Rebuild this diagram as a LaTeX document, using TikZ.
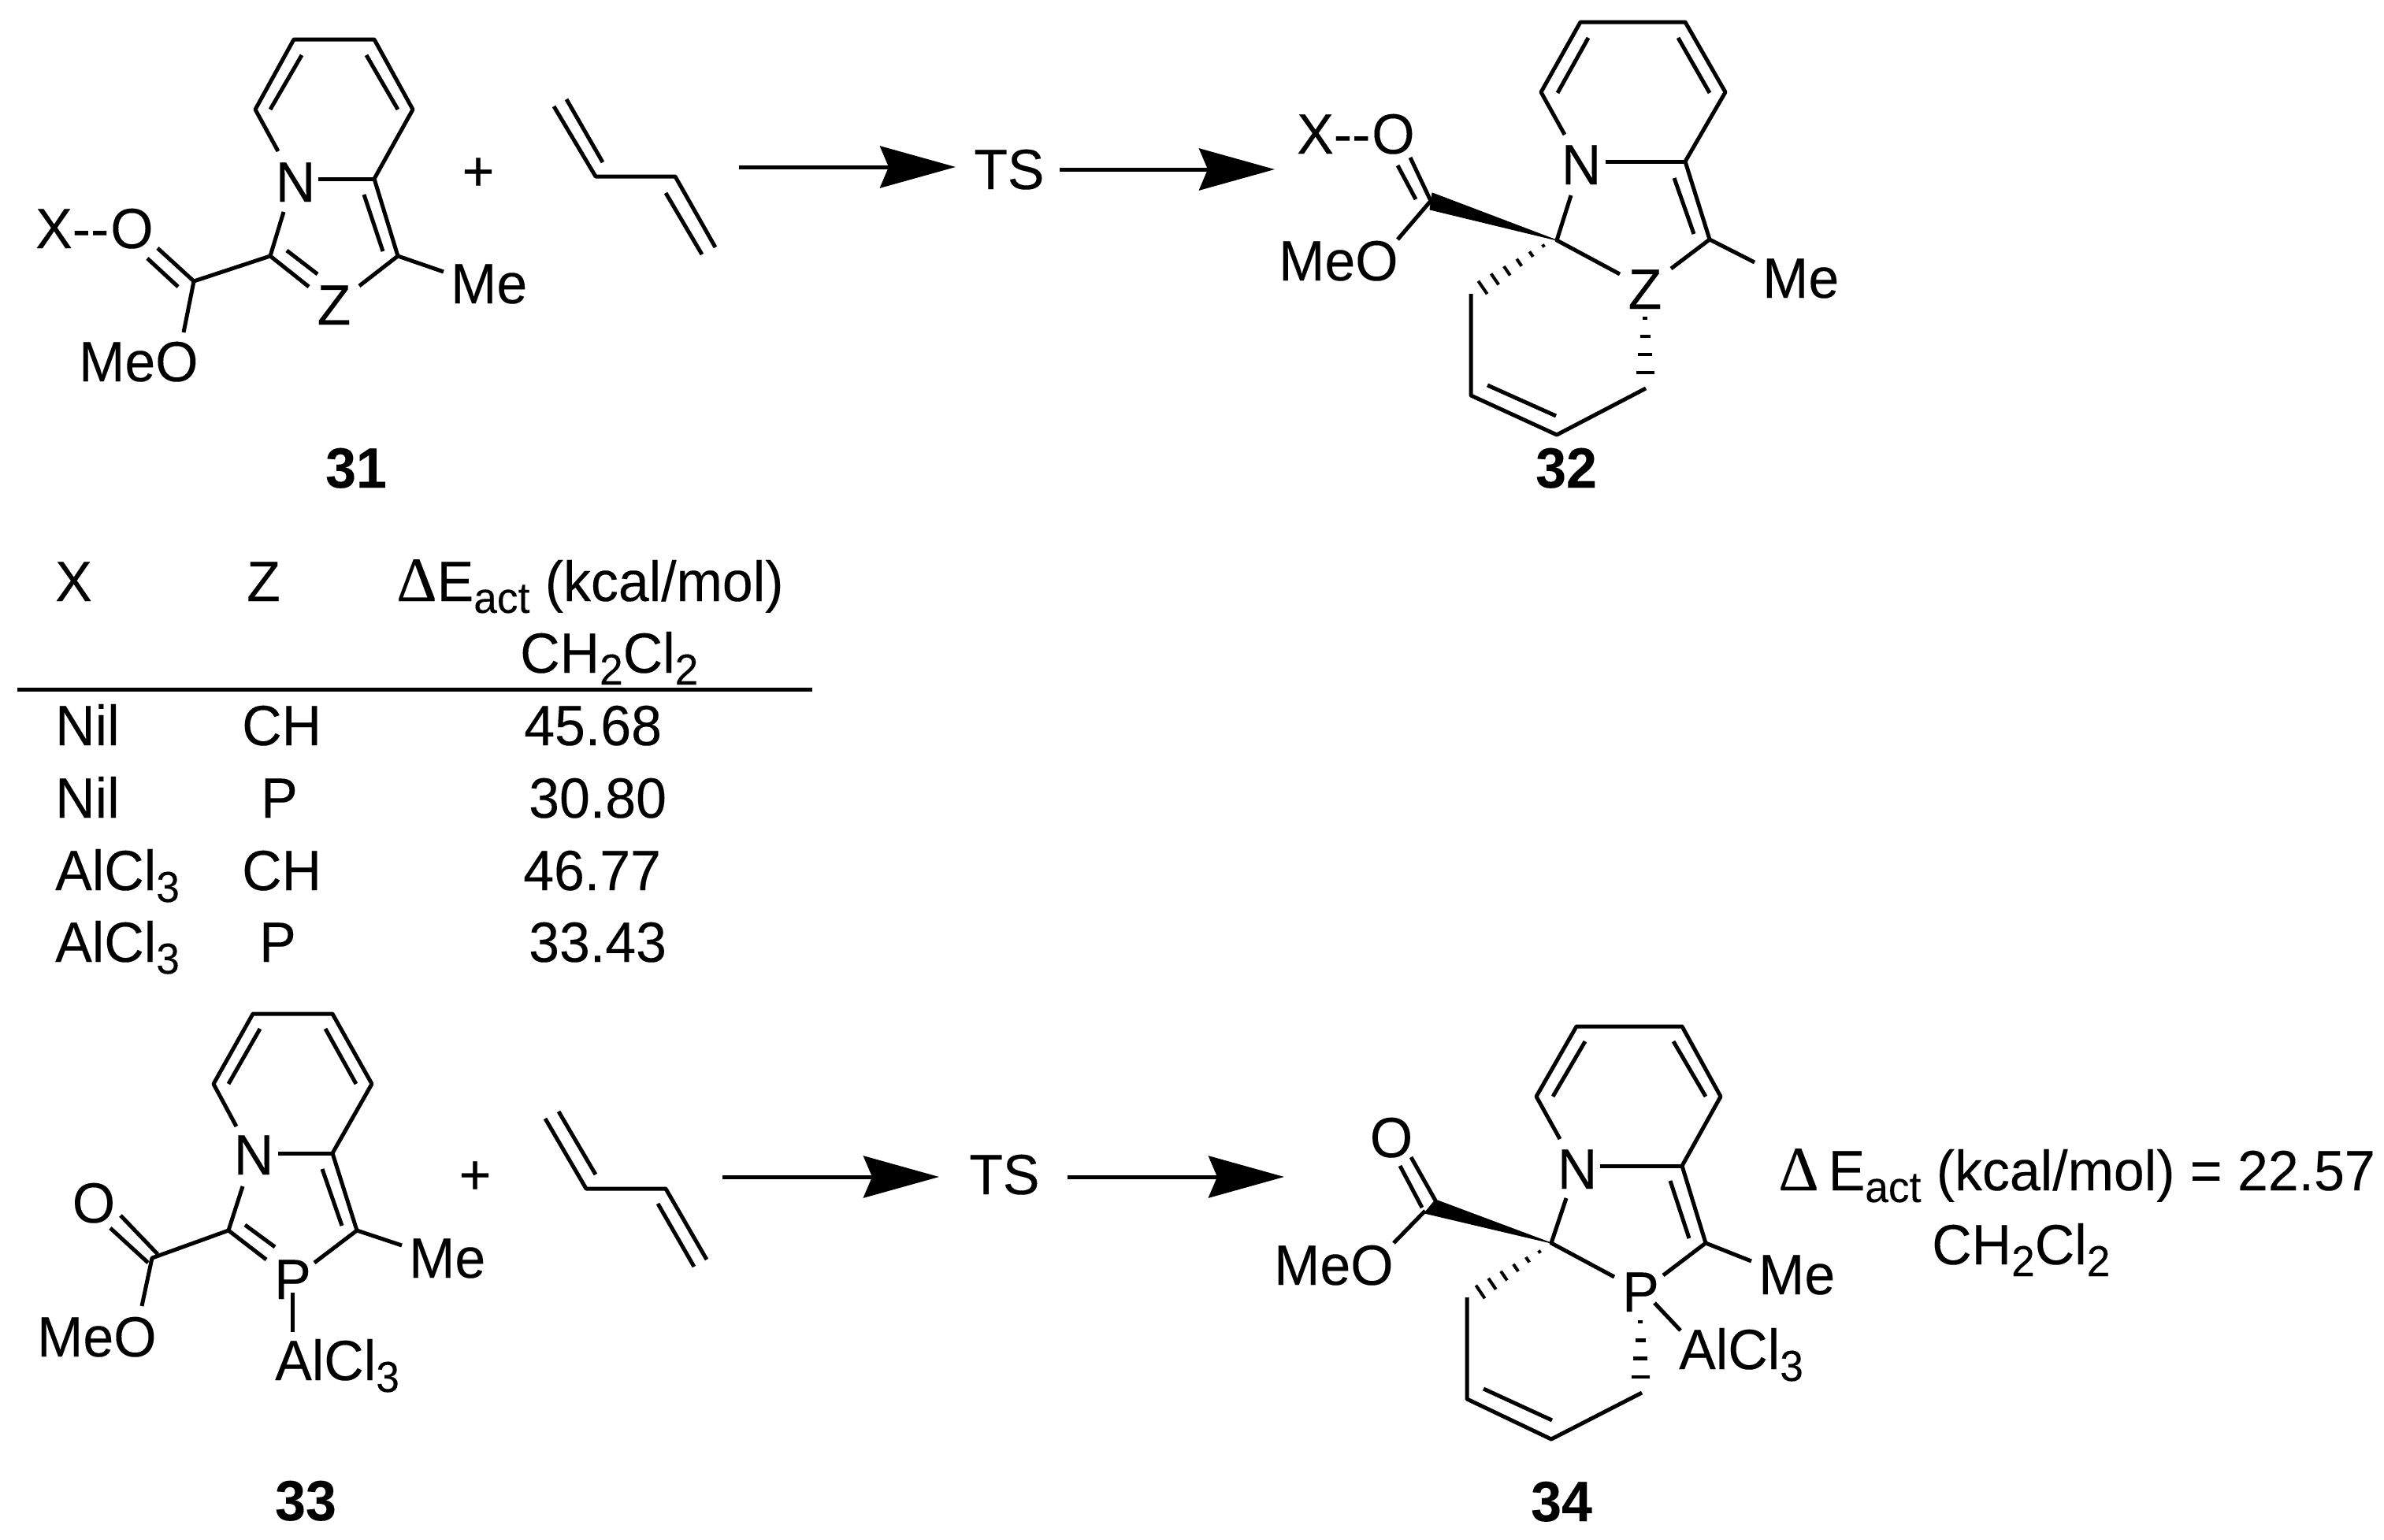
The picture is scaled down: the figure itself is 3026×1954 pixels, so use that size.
\documentclass[tikz,border=0pt]{standalone}
\usepackage{fontspec}
\setmainfont[FakeStretch=0.97,FakeBold=0.12]{Liberation Sans}
\newfontfamily\dltfont[FakeBold=0.12]{Liberation Serif}
\usetikzlibrary{arrows.meta,calc}
\newcommand\subs[1]{\raisebox{-15pt}{\fontsize{55}{55}\selectfont #1}}
\newcommand\dlt{{\fontsize{80}{80}\dltfont Δ}}
\tikzset{
  bond/.style={line width=5pt,line cap=butt,line join=round},
  rule line/.style={line width=5pt},
  rxn/.style={line width=5pt,-{Stealth[length=96pt,width=53pt,inset=11pt]}},
  lab/.style={anchor=base west,inner sep=0pt,font=\fontsize{72}{80}\selectfont},
  labc/.style={anchor=base,inner sep=0pt,font=\fontsize{72}{80}\selectfont},
  cmpd/.style={anchor=base,inner sep=0pt,font=\fontsize{72}{80}\selectfont\bfseries},
  wedge/.style={fill=black,draw=black,line width=1pt,line join=round}
}
\newcommand\hashA[2]{% six widening bars
  \coordinate (hx) at ($(#1)!2!(#2)$);
  \foreach \t/\w in {0/2,0.2/4,0.4/5.5,0.6/7,0.8/8.5,1/10}
    \draw[line width=4pt] ($(#1)!\t!(#2)!\w pt!90:(hx)$) -- ($(#1)!\t!(#2)!\w pt!-90:(hx)$);}
\newcommand\hashB[2]{% four widening bars
  \coordinate (hx) at ($(#1)!2!(#2)$);
  \foreach \t/\w in {0/3,0.333/6.5,0.667/9,1/11.5}
    \draw[line width=4.5pt] ($(#1)!\t!(#2)!\w pt!90:(hx)$) -- ($(#1)!\t!(#2)!\w pt!-90:(hx)$);}
\begin{document}
\begin{tikzpicture}[x=1pt,y=-1pt]
\useasboundingbox (0,0) rectangle (3026,1954);
% ---------- 31
\coordinate (a1) at (373,50); \coordinate (a2) at (475,50); \coordinate (a3) at (524,139);
\coordinate (a4) at (324,139); \coordinate (a5) at (475,227); \coordinate (a6) at (505,325);
\coordinate (a7) at (343,325); \coordinate (a8) at (246,357);
\coordinate (a4n) at (353,192); \coordinate (a5n) at (404,227); \coordinate (a7n) at (360,269);
\coordinate (a7z) at (392,364); \coordinate (a6z) at (456,363); \coordinate (a6m) at (563,345);
\coordinate (a1i) at (383,70); \coordinate (a4i) at (343,139);
\coordinate (a2i) at (465,70); \coordinate (a3i) at (505,139);
\coordinate (a5i) at (462,247); \coordinate (a6i) at (486,319);
\coordinate (a7i) at (364,318); \coordinate (azi) at (403,348);
\coordinate (aO1) at (200,315); \coordinate (aO2) at (187,328); \coordinate (a8i) at (226,364);
\coordinate (aOm) at (233,422);
\draw[bond] (a4n) -- (a4) -- (a1) -- (a2) -- (a3) -- (a5) -- (a6) -- (a6m);
\draw[bond] (a5n) -- (a5);
\draw[bond] (a7n) -- (a7) -- (a7z);
\draw[bond] (a6z) -- (a6);
\draw[bond] (a7) -- (a8) -- (aO1);
\draw[bond] (a8) -- (aOm);
\draw[bond] (a8i) -- (aO2);
\draw[bond] (a1i) -- (a4i);
\draw[bond] (a2i) -- (a3i);
\draw[bond] (a5i) -- (a6i);
\draw[bond] (a7i) -- (azi);
\node[labc] (aN) at (375,256) {N};
\node[labc] (aZ) at (424,412) {Z};
\node[lab] (aMe) at (572,385) {Me};
\node[lab] (aXO) at (45,315) {X-{}-\kern2pt O};
\node[lab] (aMeO) at (100,484) {MeO};
\node[cmpd] (a31) at (452,619) {31};
\node[labc] (plusA) at (607,242) {+};
% butadiene top
\coordinate (e1) at (703,135); \coordinate (e2) at (756,224); \coordinate (e3) at (857,224); \coordinate (e4) at (908,314);
\coordinate (e1i) at (719,126); \coordinate (e2i) at (765,206); \coordinate (e3i) at (845,245); \coordinate (e4i) at (891,323);
\draw[bond] (e1) -- (e2) -- (e3) -- (e4);
\draw[bond] (e1i) -- (e2i);
\draw[bond] (e3i) -- (e4i);
% arrows top
\node[lab] (tsA) at (1236,240) {TS};
\coordinate (ra1) at (938,212); \coordinate (ra2) at (1213,212);
\coordinate (ra3) at (1345,215); \coordinate (ra4) at (1618,215);
\draw[rxn] (ra1) -- (ra2);
\draw[rxn] (ra3) -- (ra4);
% ---------- 32
\coordinate (b1) at (2006,28); \coordinate (b2) at (2139,28); \coordinate (b3) at (2190,117);
\coordinate (b4) at (1956,117); \coordinate (b5) at (2139,205); \coordinate (b6) at (2170,304);
\coordinate (b7) at (1976,305); \coordinate (b8) at (1816,255);
\coordinate (b4n) at (1986,171); \coordinate (b5n) at (2038,205); \coordinate (b7n) at (1994,248);
\coordinate (b7z) at (2056,348); \coordinate (b6z) at (2121,341); \coordinate (b6m) at (2227,333);
\coordinate (b1i) at (2016,48); \coordinate (b4i) at (1977,118);
\coordinate (b2i) at (2130,48); \coordinate (b3i) at (2170,118);
\coordinate (b5i) at (2125,226); \coordinate (b6i) at (2150,297);
\coordinate (bO1) at (1790,200); \coordinate (bO2) at (1774,210); \coordinate (b8i) at (1797,253);
\coordinate (bOm) at (1774,304);
\coordinate (bw1) at (1818,245); \coordinate (bw2) at (1815,266);
\coordinate (bh1) at (1959,312); \coordinate (bh2) at (1882,365);
\coordinate (b9) at (1867,373); \coordinate (b10) at (1867,502); \coordinate (b11) at (1976,552); \coordinate (b12) at (2089,493);
\coordinate (b10i) at (1888,489); \coordinate (b11i) at (1975,528);
\coordinate (bh3) at (2088,404); \coordinate (bh4) at (2088,473);
\draw[bond] (b4n) -- (b4) -- (b1) -- (b2) -- (b3) -- (b5) -- (b6) -- (b6m);
\draw[bond] (b5n) -- (b5);
\draw[bond] (b7n) -- (b7) -- (b7z);
\draw[bond] (b6z) -- (b6);
\draw[bond] (b8) -- (bO1);
\draw[bond] (b8) -- (bOm);
\draw[bond] (b8i) -- (bO2);
\draw[bond] (b1i) -- (b4i);
\draw[bond] (b2i) -- (b3i);
\draw[bond] (b5i) -- (b6i);
\draw[bond] (b9) -- (b10) -- (b11) -- (b12);
\draw[bond] (b10i) -- (b11i);
\draw[wedge] (b7) -- (bw1) -- (bw2) -- cycle;
\hashA{bh1}{bh2}
\hashB{bh3}{bh4}
\node[labc] (bN) at (2007,234) {N};
\node[labc] (bZ) at (2088,392) {Z};
\node[lab] (bMe) at (2237,378) {Me};
\node[lab] (bXO) at (1646,195) {X-{}-\kern2pt O};
\node[lab] (bMeO) at (1623,356) {MeO};
\node[cmpd] (b32) at (1988,619) {32};
% ---------- table
\node[lab] (tX) at (70,763) {X};
\node[lab] (tZ) at (313,763) {Z};
\node[lab] (tE) at (503,763) {\dlt E\subs{act} (kcal/mol)};
\node[lab] (tS) at (660,854) {CH\subs{2}Cl\subs{2}};
\coordinate (tr1) at (22,875); \coordinate (tr2) at (1031,875);
\draw[rule line] (tr1) -- (tr2);
\node[lab] (t11) at (70,946) {Nil};
\node[lab] (t12) at (307,946) {CH};
\node[lab] (t13) at (665,946) {45.68};
\node[lab] (t21) at (70,1038) {Nil};
\node[lab] (t22) at (331,1038) {P};
\node[lab] (t23) at (671,1038) {30.80};
\node[lab] (t31) at (70,1130) {AlCl\subs{3}};
\node[lab] (t32) at (307,1130) {CH};
\node[lab] (t33) at (664,1130) {46.77};
\node[lab] (t41) at (70,1221) {AlCl\subs{3}};
\node[lab] (t42) at (329,1221) {P};
\node[lab] (t43) at (671,1221) {33.43};
% ---------- 33
\coordinate (c1) at (321,1287); \coordinate (c2) at (422,1287); \coordinate (c3) at (472,1376);
\coordinate (c4) at (271,1376); \coordinate (c5) at (422,1464); \coordinate (c6) at (453,1562);
\coordinate (c7) at (290,1562); \coordinate (c8) at (193,1597); \coordinate (c8o) at (200,1592);
\coordinate (c4n) at (300,1430); \coordinate (c5n) at (353,1464); \coordinate (c7n) at (308,1506);
\coordinate (c7z) at (338,1599); \coordinate (c6z) at (399,1603); \coordinate (c6m) at (510,1581);
\coordinate (c1i) at (330,1306); \coordinate (c4i) at (290,1376);
\coordinate (c2i) at (413,1306); \coordinate (c3i) at (452,1376);
\coordinate (c5i) at (409,1484); \coordinate (c6i) at (434,1556);
\coordinate (c7i) at (311,1555); \coordinate (cPi) at (349,1583);
\coordinate (cO1) at (153,1543); \coordinate (cO2) at (140,1559); \coordinate (c8i) at (188,1603);
\coordinate (cOm) at (180,1658);
\coordinate (cP1) at (371,1641); \coordinate (cP2) at (371,1691);
\draw[bond] (c4n) -- (c4) -- (c1) -- (c2) -- (c3) -- (c5) -- (c6) -- (c6m);
\draw[bond] (c5n) -- (c5);
\draw[bond] (c7n) -- (c7) -- (c8) -- (cOm);
\draw[bond] (c6z) -- (c6);
\draw[bond] (c8o) -- (cO1);
\draw[bond] (c8i) -- (cO2);
\draw[bond] (c1i) -- (c4i);
\draw[bond] (c2i) -- (c3i);
\draw[bond] (c5i) -- (c6i);
\draw[bond] (c7i) -- (cPi);
\draw[bond] (cP1) -- (cP2);
\draw[bond] (c7) -- (c7z);
\node[labc] (cN) at (322,1491) {N};
\node[lab] (cP) at (348,1649) {P};
\node[lab] (cMe) at (519,1622) {Me};
\node[labc] (cO) at (119,1552) {O};
\node[lab] (cMeO) at (47,1722) {MeO};
\node[lab] (cAl) at (349,1752) {AlCl\subs{3}};
\node[cmpd] (c33) at (388,1930) {33};
\node[labc] (plusB) at (603,1516) {+};
% butadiene bottom
\coordinate (f1) at (692,1420); \coordinate (f2) at (744,1509); \coordinate (f3) at (845,1509); \coordinate (f4) at (897,1599);
\coordinate (f1i) at (709,1411); \coordinate (f2i) at (756,1491); \coordinate (f3i) at (835,1528); \coordinate (f4i) at (881,1608);
\draw[bond] (f1) -- (f2) -- (f3) -- (f4);
\draw[bond] (f1i) -- (f2i);
\draw[bond] (f3i) -- (f4i);
% arrows bottom
\node[lab] (tsB) at (1230,1516) {TS};
\coordinate (rb1) at (917,1494); \coordinate (rb2) at (1192,1494);
\coordinate (rb3) at (1355,1494); \coordinate (rb4) at (1630,1494);
\draw[rxn] (rb1) -- (rb2);
\draw[rxn] (rb3) -- (rb4);
% ---------- 34
\coordinate (d1) at (2001,1303); \coordinate (d2) at (2135,1303); \coordinate (d3) at (2184,1392);
\coordinate (d4) at (1950,1392); \coordinate (d5) at (2135,1480); \coordinate (d6) at (2165,1578);
\coordinate (d7) at (1969,1578); \coordinate (d8) at (1809,1537);
\coordinate (d4n) at (1980,1446); \coordinate (d5n) at (2031,1480); \coordinate (d7n) at (1988,1521);
\coordinate (d7z) at (2049,1621); \coordinate (d6z) at (2111,1619); \coordinate (d6m) at (2223,1601);
\coordinate (d1i) at (2012,1322); \coordinate (d4i) at (1971,1392);
\coordinate (d2i) at (2124,1322); \coordinate (d3i) at (2165,1392);
\coordinate (d5i) at (2120,1499); \coordinate (d6i) at (2144,1572);
\coordinate (dO1) at (1791,1469); \coordinate (dO2) at (1777,1480); \coordinate (d8i) at (1805,1533); \coordinate (d8o) at (1822,1524);
\coordinate (dOm) at (1769,1578);
\coordinate (dw1) at (1822,1523); \coordinate (dw2) at (1808,1540);
\coordinate (dh1) at (1954,1589); \coordinate (dh2) at (1879,1640);
\coordinate (d9) at (1862,1647); \coordinate (d10) at (1862,1776); \coordinate (d11) at (1969,1827); \coordinate (d12) at (2084,1768);
\coordinate (d10i) at (1883,1763); \coordinate (d11i) at (1970,1803);
\coordinate (dh3) at (2082,1678); \coordinate (dh4) at (2082,1748);
\coordinate (dP1) at (2100,1654); \coordinate (dP2) at (2133,1689);
\draw[bond] (d4n) -- (d4) -- (d1) -- (d2) -- (d3) -- (d5) -- (d6) -- (d6m);
\draw[bond] (d5n) -- (d5);
\draw[bond] (d7n) -- (d7) -- (d7z);
\draw[bond] (d6z) -- (d6);
\draw[bond] (d8o) -- (dO1);
\draw[bond] (d8) -- (dOm);
\draw[bond] (d8i) -- (dO2);
\draw[bond] (d1i) -- (d4i);
\draw[bond] (d2i) -- (d3i);
\draw[bond] (d5i) -- (d6i);
\draw[bond] (d9) -- (d10) -- (d11) -- (d12);
\draw[bond] (d10i) -- (d11i);
\draw[bond] (dP1) -- (dP2);
\draw[wedge] (d7) -- (dw1) -- (dw2) -- cycle;
\hashA{dh1}{dh2}
\hashB{dh3}{dh4}
\node[labc] (dN) at (2002,1509) {N};
\node[lab] (dP) at (2059,1665) {P};
\node[lab] (dMe) at (2232,1643) {Me};
\node[labc] (dO) at (1766,1469) {O};
\node[lab] (dMeO) at (1617,1631) {MeO};
\node[lab] (dAl) at (2131,1738) {AlCl\subs{3}};
\node[cmpd] (d34) at (1982,1931) {34};
\node[lab] (gE) at (2257,1511) {\dlt\hspace{12pt}E\subs{act} (kcal/mol) = 22.57};
\node[lab] (gS) at (2452,1605) {CH\subs{2}Cl\subs{2}};
\end{tikzpicture}
\end{document}
